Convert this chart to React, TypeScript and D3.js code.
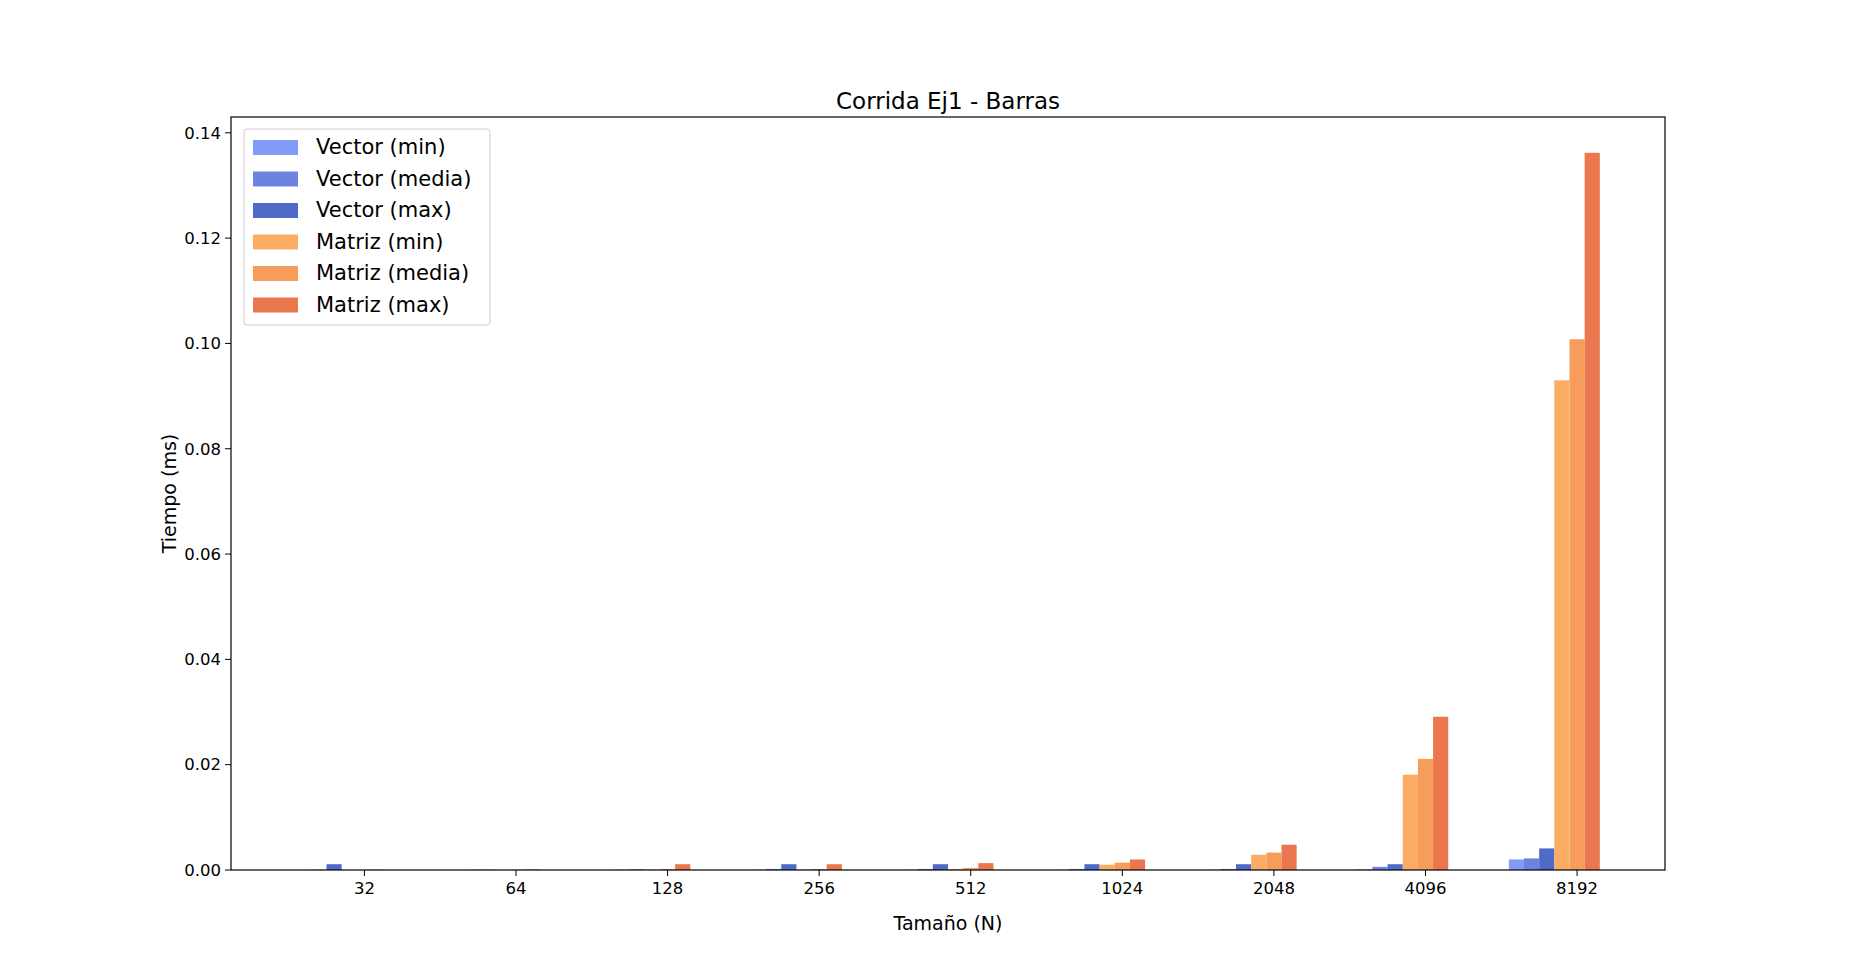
import React, { useRef, useEffect } from "react";
import * as d3 from "d3";

const sizes = ["32", "64", "128", "256", "512", "1024", "2048", "4096", "8192"];
const seriesNames = ["Vector (min)", "Vector (media)", "Vector (max)", "Matriz (min)", "Matriz (media)", "Matriz (max)"];
const seriesColors = ["#819cf6", "#6c84e0", "#4f6bc8", "#fbad66", "#f79d5c", "#eb774f"];

const vecMin = [0.00002, 0.00001, 0.00002, 0.00003, 0.00003, 0.00003, 0.00003, 0.0001, 0.0020];
const vecMedia = [0.00005, 0.00002, 0.00004, 0.0002, 0.0002, 0.0002, 0.0002, 0.0006, 0.0022];
const vecMax = [0.0011, 0.00005, 0.0001, 0.0011, 0.0011, 0.0011, 0.0011, 0.0011, 0.0041];
const matMin = [0.00001, 0.00002, 0.00005, 0.0001, 0.0002, 0.001, 0.0029, 0.0181, 0.093];
const matMedia = [0.00002, 0.00005, 0.0002, 0.0002, 0.0004, 0.0014, 0.0033, 0.0211, 0.1008];
const matMax = [0.00005, 0.0001, 0.0011, 0.0011, 0.0013, 0.002, 0.0048, 0.0291, 0.1362];
const series = [vecMin, vecMedia, vecMax, matMin, matMedia, matMax];
const yTicks = [0, 0.02, 0.04, 0.06, 0.08, 0.1, 0.12, 0.14];

const W = 1850, H = 977;
const m = { left: 231, right: 1665, top: 117, bottom: 870 };
const barW = 0.1;

export default function App() {
  const ref = useRef<SVGSVGElement>(null);

  useEffect(() => {
    if (!ref.current) return;
    const svg = d3.select(ref.current);
    svg.selectAll("*").remove();
    const font = "DejaVu Sans, sans-serif";

    const x = d3.scaleLinear().domain([-0.88, 8.58]).range([m.left, m.right]);
    const y = d3.scaleLinear().domain([0, 0.1430]).range([m.bottom, m.top]);

    series.forEach((vals, si) => {
      svg.append("g")
        .selectAll("rect")
        .data(vals)
        .join("rect")
        .attr("x", (_, i) => x(i + (si - 4) * barW - barW / 2))
        .attr("width", x(barW) - x(0))
        .attr("y", (d) => y(d))
        .attr("height", (d) => y(0) - y(d))
        .attr("fill", seriesColors[si]);
    });

    svg.append("rect")
      .attr("x", m.left).attr("y", m.top)
      .attr("width", m.right - m.left).attr("height", m.bottom - m.top)
      .attr("fill", "none").attr("stroke", "#000").attr("stroke-width", 1.2);

    const xg = svg.append("g").attr("transform", `translate(0,${m.bottom})`);
    sizes.forEach((s, i) => {
      xg.append("line").attr("x1", x(i)).attr("x2", x(i)).attr("y1", 0).attr("y2", 6).attr("stroke", "#000");
      xg.append("text").attr("x", x(i)).attr("y", 24).attr("text-anchor", "middle")
        .attr("font-size", 16.5).attr("font-family", font).text(s);
    });

    const yg = svg.append("g").attr("transform", `translate(${m.left},0)`);
    yTicks.forEach((t) => {
      yg.append("line").attr("x1", 0).attr("x2", -6).attr("y1", y(t)).attr("y2", y(t)).attr("stroke", "#000");
      yg.append("text").attr("x", -10).attr("y", y(t)).attr("dy", "0.35em").attr("text-anchor", "end")
        .attr("font-size", 16.5).attr("font-family", font).text(t.toFixed(2));
    });

    svg.append("text").attr("x", (m.left + m.right) / 2).attr("y", 930).attr("text-anchor", "middle")
      .attr("font-size", 19).attr("font-family", font).text("Tamaño (N)");
    svg.append("text").attr("transform", `translate(176,${(m.top + m.bottom) / 2}) rotate(-90)`)
      .attr("text-anchor", "middle").attr("font-size", 19).attr("font-family", font).text("Tiempo (ms)");
    svg.append("text").attr("x", (m.left + m.right) / 2).attr("y", 109).attr("text-anchor", "middle")
      .attr("font-size", 23).attr("font-family", font).text("Corrida Ej1 - Barras");

    const lg = svg.append("g").attr("transform", `translate(${m.left + 13},${m.top + 12})`);
    lg.append("rect").attr("width", 246).attr("height", 196).attr("rx", 3)
      .attr("fill", "#fff").attr("fill-opacity", 0.8).attr("stroke", "#ccc");
    seriesNames.forEach((n, i) => {
      const yy = 18 + i * 31.5;
      lg.append("rect").attr("x", 9).attr("y", yy - 7).attr("width", 45).attr("height", 15).attr("fill", seriesColors[i]);
      lg.append("text").attr("x", 72).attr("y", yy).attr("dy", "0.35em")
        .attr("font-size", 21).attr("font-family", font).text(n);
    });
  }, []);

  return <svg ref={ref} width={W} height={H} style={{ display: "block", margin: -8 }} />;
}
